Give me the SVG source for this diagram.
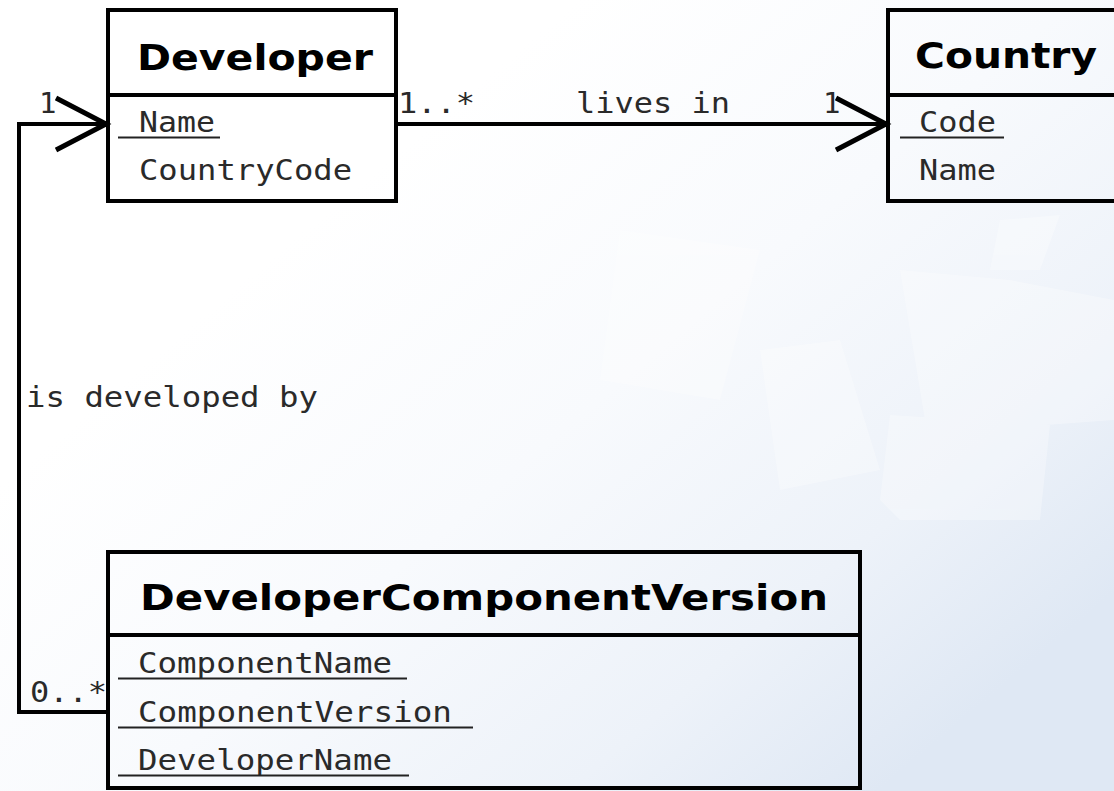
<svg xmlns="http://www.w3.org/2000/svg" width="1114" height="791" viewBox="0 0 1114 791">
  <defs>
    <linearGradient id="bg" x1="0.35" y1="0.2" x2="1" y2="0.75">
      <stop offset="0" stop-color="#ffffff"/>
      <stop offset="0.4" stop-color="#f8fafd"/>
      <stop offset="0.75" stop-color="#edf2f9"/>
      <stop offset="1" stop-color="#dfe8f4"/>
    </linearGradient>
    <marker id="open" markerUnits="userSpaceOnUse" viewBox="-4 -4 60 60" refX="50" refY="26" markerWidth="60" markerHeight="60" orient="auto">
      <polyline points="0,0 50,26 0,52" fill="none" stroke="#000" stroke-width="5"/>
    </marker>
    <style>
      .box{fill:none;stroke:#000;stroke-width:4}
      .title{font-family:"DejaVu Sans",Verdana,sans-serif;font-weight:bold;font-size:35px;fill:#000}
      .attr{font-family:"DejaVu Sans Mono","Liberation Mono",monospace;font-size:29px;fill:#2a2a2a}
      .lbl{font-family:"DejaVu Sans Mono","Liberation Mono",monospace;font-size:29px;fill:#2a2a2a}
      .ul{stroke:#222;stroke-width:1.8}
      .conn{fill:none;stroke:#000;stroke-width:4}
    </style>
  </defs>

  <rect width="1114" height="791" fill="url(#bg)"/>
  <g id="bg-shapes" fill="#ffffff" opacity="0.3">
    <polygon points="900,270 1010,280 1114,300 1114,420 980,430 925,420"/>
    <polygon points="890,415 1050,425 1040,520 900,520 880,500"/>
    <polygon points="1000,220 1060,215 1040,270 990,270"/>
    <polygon points="620,230 760,250 720,400 600,380"/>
    <polygon points="760,350 840,340 880,470 780,490"/>
  </g>

  <g id="connectors">
    <path class="conn" d="M396,124 H886" marker-end="url(#open)"/>
    <path class="conn" d="M108,712 H19 V124 H106" marker-end="url(#open)"/>
    <text class="lbl" x="398" y="113" textLength="77" lengthAdjust="spacingAndGlyphs">1..*</text>
    <text class="lbl" x="576" y="113" textLength="154" lengthAdjust="spacingAndGlyphs">lives in</text>
    <text class="lbl" x="823" y="113">1</text>
    <text class="lbl" x="39" y="113">1</text>
    <text class="lbl" x="26" y="407" textLength="292" lengthAdjust="spacingAndGlyphs">is developed by</text>
    <text class="lbl" x="30" y="702" textLength="77" lengthAdjust="spacingAndGlyphs">0..*</text>
  </g>

  <g id="Developer">
    <rect class="box" x="108" y="10" width="288" height="191"/>
    <line class="box" x1="108" y1="95" x2="396" y2="95"/>
    <text class="title" x="137" y="70" textLength="236" lengthAdjust="spacingAndGlyphs">Developer</text>
    <text class="attr" x="139" y="132" textLength="76" lengthAdjust="spacingAndGlyphs">Name</text>
    <line class="ul" x1="118" y1="137.5" x2="220" y2="137.5"/>
    <text class="attr" x="139" y="180" textLength="213" lengthAdjust="spacingAndGlyphs">CountryCode</text>
  </g>

  <g id="Country">
    <rect class="box" x="888" y="10" width="240" height="191"/>
    <line class="box" x1="888" y1="95" x2="1114" y2="95"/>
    <text class="title" x="915" y="68" textLength="182" lengthAdjust="spacingAndGlyphs">Country</text>
    <text class="attr" x="919" y="132" textLength="77" lengthAdjust="spacingAndGlyphs">Code</text>
    <line class="ul" x1="900" y1="137.5" x2="1004" y2="137.5"/>
    <text class="attr" x="919" y="180" textLength="77" lengthAdjust="spacingAndGlyphs">Name</text>
  </g>

  <g id="DeveloperComponentVersion">
    <rect class="box" x="108" y="552" width="752" height="236"/>
    <line class="box" x1="108" y1="635" x2="860" y2="635"/>
    <text class="title" x="140" y="610" textLength="688" lengthAdjust="spacingAndGlyphs">DeveloperComponentVersion</text>
    <text class="attr" x="138" y="673" textLength="254" lengthAdjust="spacingAndGlyphs">ComponentName</text>
    <line class="ul" x1="118" y1="678.5" x2="407" y2="678.5"/>
    <text class="attr" x="138" y="722" textLength="314" lengthAdjust="spacingAndGlyphs">ComponentVersion</text>
    <line class="ul" x1="118" y1="727.5" x2="473" y2="727.5"/>
    <text class="attr" x="138" y="770" textLength="254" lengthAdjust="spacingAndGlyphs">DeveloperName</text>
    <line class="ul" x1="118" y1="775.5" x2="409" y2="775.5"/>
  </g>
</svg>
